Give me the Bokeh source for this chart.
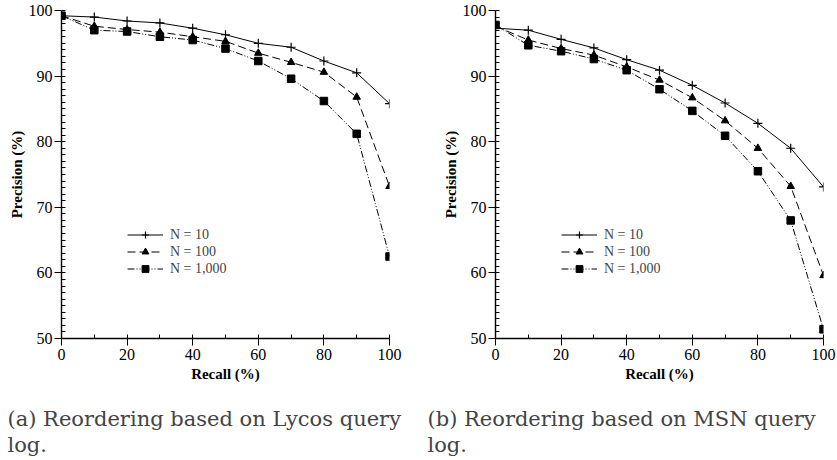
from bokeh.plotting import figure
from bokeh.layouts import row
from bokeh.models import Range1d, Legend, LegendItem, Title, FixedTicker
from bokeh.embed import file_html
from bokeh.resources import INLINE

recall = [0, 10, 20, 30, 40, 50, 60, 70, 80, 90, 100]

lycos_n10 = [99.2, 99.0, 98.4, 98.1, 97.3, 96.3, 95.0, 94.4, 92.3, 90.5, 85.8]
lycos_n100 = [99.2, 97.6, 97.1, 96.7, 96.0, 95.3, 93.5, 92.1, 90.6, 86.8, 73.2]
lycos_n1000 = [99.2, 97.0, 96.8, 96.0, 95.5, 94.2, 92.3, 89.6, 86.2, 81.2, 62.5]

msn_n10 = [97.3, 97.0, 95.6, 94.3, 92.5, 90.9, 88.6, 85.9, 82.8, 79.0, 73.1]
msn_n100 = [97.6, 95.5, 94.2, 93.2, 91.4, 89.4, 86.7, 83.2, 79.0, 73.2, 59.6]
msn_n1000 = [97.8, 94.7, 93.8, 92.6, 90.9, 88.0, 84.7, 80.9, 75.5, 68.0, 51.4]

series_labels = ["N = 10", "N = 100", "N = 1,000"]
x_ticks = [0, 20, 40, 60, 80, 100]
y_ticks = [50, 60, 70, 80, 90, 100]
captions = [["(a) Reordering based on Lycos query", "log."],
            ["(b) Reordering based on MSN query", "log."]]

SERIF = "Liberation Serif"
CAP = "DejaVu Serif"


def make_plot(ys, caption, border_left, border_right):
    p = figure(frame_width=328, frame_height=328, output_backend="svg", toolbar_location=None,
               x_range=Range1d(0, 100), y_range=Range1d(50, 100),
               min_border_left=border_left, min_border_right=border_right,
               min_border_top=10, min_border_bottom=122)
    p.outline_line_color = None
    p.grid.visible = False
    p.background_fill_color = "white"
    p.border_fill_color = "white"

    styles = [("solid", "cross"), ("8 4", "triangle"), ("7 2 1 2 1 2", "square")]
    items = []
    for y, lab, (dash, mk) in zip(ys, series_labels, styles):
        ln = p.line(recall, y, line_color="black", line_width=1, line_dash=dash)
        if mk == "cross":
            sc = p.scatter(recall, y, marker="cross", size=9, line_color="black", line_width=1.2)
        else:
            sc = p.scatter(recall, y, marker=mk, size=7.5, fill_color="black", line_color="black")
        items.append(LegendItem(label=lab, renderers=[ln, sc]))

    legend = Legend(items=items, location=(66, 61), background_fill_alpha=0,
                    border_line_color=None, glyph_width=36, glyph_height=17,
                    label_height=17, label_standoff=7, spacing=0, padding=0, margin=0,
                    label_text_font=SERIF, label_text_font_size="14px")
    p.add_layout(legend, "center")

    for ax in (p.xaxis[0], p.yaxis[0]):
        ax.axis_line_color = "black"
        ax.axis_line_width = 1.4
        ax.major_tick_line_color = "black"
        ax.minor_tick_line_color = "black"
        ax.major_tick_in = 0
        ax.major_tick_out = 7
        ax.minor_tick_in = 4
        ax.minor_tick_out = 0
        ax.major_label_text_font = SERIF
        ax.major_label_text_font_size = "16px"
        ax.major_label_text_color = "black"
        ax.axis_label_text_font = SERIF
        ax.axis_label_text_font_style = "bold"
        ax.axis_label_text_font_size = "15px"
        ax.axis_label_text_color = "black"

    p.xaxis.ticker = FixedTicker(ticks=x_ticks, minor_ticks=list(range(0, 101, 10)))
    p.yaxis.ticker = FixedTicker(ticks=y_ticks, minor_ticks=list(range(50, 101, 1)))
    p.xaxis.axis_label = "Recall (%)"
    p.yaxis.axis_label = "Precision (%)"
    p.xaxis.major_label_standoff = 3
    p.yaxis.major_label_standoff = 2
    p.xaxis.axis_label_standoff = 3
    p.yaxis.axis_label_standoff = 1

    off = -(border_left - 7)
    t = Title(text="\n".join(caption), align="left", offset=off, standoff=41,
              text_font=CAP, text_font_size="21px", text_font_style="normal",
              text_line_height=1.08)
    p.add_layout(t, "below")
    return p


p1 = make_plot([lycos_n10, lycos_n100, lycos_n1000], captions[0], 61, 31)
p2 = make_plot([msn_n10, msn_n100, msn_n1000], captions[1], 75, 14)

layout = row(p1, p2)
open("out.html", "w").write(file_html(layout, INLINE))
